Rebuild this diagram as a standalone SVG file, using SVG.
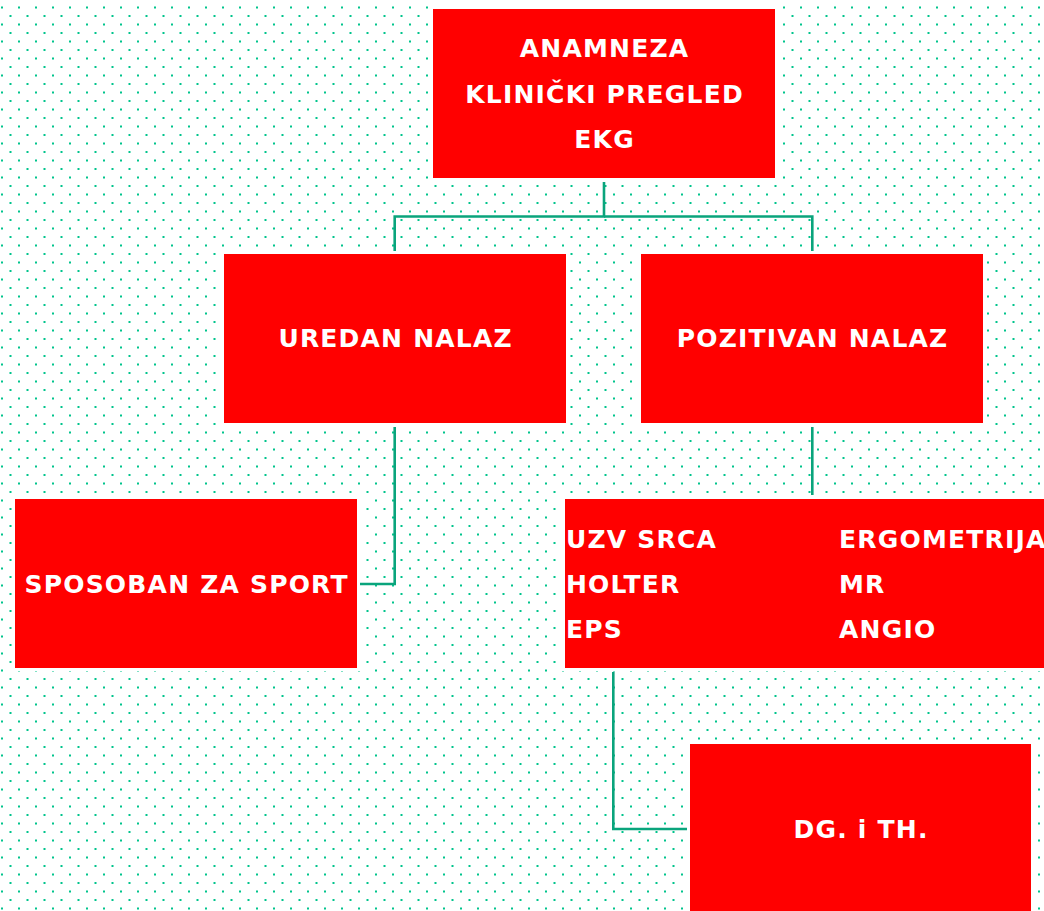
<svg xmlns="http://www.w3.org/2000/svg" width="1044" height="911" viewBox="0 0 1044 911">
<defs>
<pattern id="dots" x="0" y="0" width="17" height="17" patternUnits="userSpaceOnUse">
<rect x="1" y="6.5" width="2" height="2" fill="#00c48c"/>
<rect x="9.5" y="15" width="2" height="2" fill="#00c48c"/>
</pattern>
<style>
.box{fill:#ff0000;}
.pad{fill:#ffffff;}
.t{font-family:"DejaVu Sans",Verdana,sans-serif;font-weight:bold;font-size:25px;letter-spacing:1.2px;fill:#ffffff;}
.c{text-anchor:middle;}
.conn{fill:none;stroke:#0aa47c;stroke-width:2.6;}
</style>
</defs>
<rect width="1044" height="911" fill="#ffffff"/>
<rect width="1044" height="911" fill="url(#dots)"/>
<g id="connectors">
<path class="conn" d="M604,182 V216.5 H394.7 V251"/>
<path class="conn" d="M604,216.5 H812.3 V251"/>
<path class="conn" d="M394.7,427 V584 H360"/>
<path class="conn" d="M812.3,427 V495"/>
<path class="conn" d="M613.3,672 V829 H687"/>
</g>
<g id="n-anamneza">
<rect class="pad" x="430" y="6" width="348" height="175"/>
<rect class="box" x="433" y="9" width="342" height="169"/>
<text class="t c" x="604.6" y="57">ANAMNEZA</text>
<text class="t c" x="604.6" y="102.5">KLINIČKI PREGLED</text>
<text class="t c" x="604.6" y="148">EKG</text>
</g>
<g id="n-uredan">
<rect class="pad" x="221" y="251" width="348" height="175"/>
<rect class="box" x="224" y="254" width="342" height="169"/>
<text class="t c" x="395.6" y="347">UREDAN NALAZ</text>
</g>
<g id="n-pozitivan">
<rect class="pad" x="638" y="251" width="348" height="175"/>
<rect class="box" x="641" y="254" width="342" height="169"/>
<text class="t c" x="812.6" y="347">POZITIVAN NALAZ</text>
</g>
<g id="n-sposoban">
<rect class="pad" x="12" y="496" width="348" height="175"/>
<rect class="box" x="15" y="499" width="342" height="169"/>
<text class="t c" x="186.6" y="592.5">SPOSOBAN ZA SPORT</text>
</g>
<g id="n-pretrage">
<rect class="pad" x="562" y="496" width="490" height="175"/>
<rect class="box" x="565" y="499" width="485" height="169"/>
<text class="t" x="566" y="548">UZV SRCA</text>
<text class="t" x="566" y="593">HOLTER</text>
<text class="t" x="566" y="637.5">EPS</text>
<text class="t" x="839" y="548">ERGOMETRIJA</text>
<text class="t" x="839" y="593">MR</text>
<text class="t" x="839" y="637.5">ANGIO</text>
</g>
<g id="n-dg">
<rect class="pad" x="687" y="741" width="347" height="175"/>
<rect class="box" x="690" y="744" width="341" height="170"/>
<text class="t c" x="861.1" y="837.5">DG. i TH.</text>
</g>
</svg>
